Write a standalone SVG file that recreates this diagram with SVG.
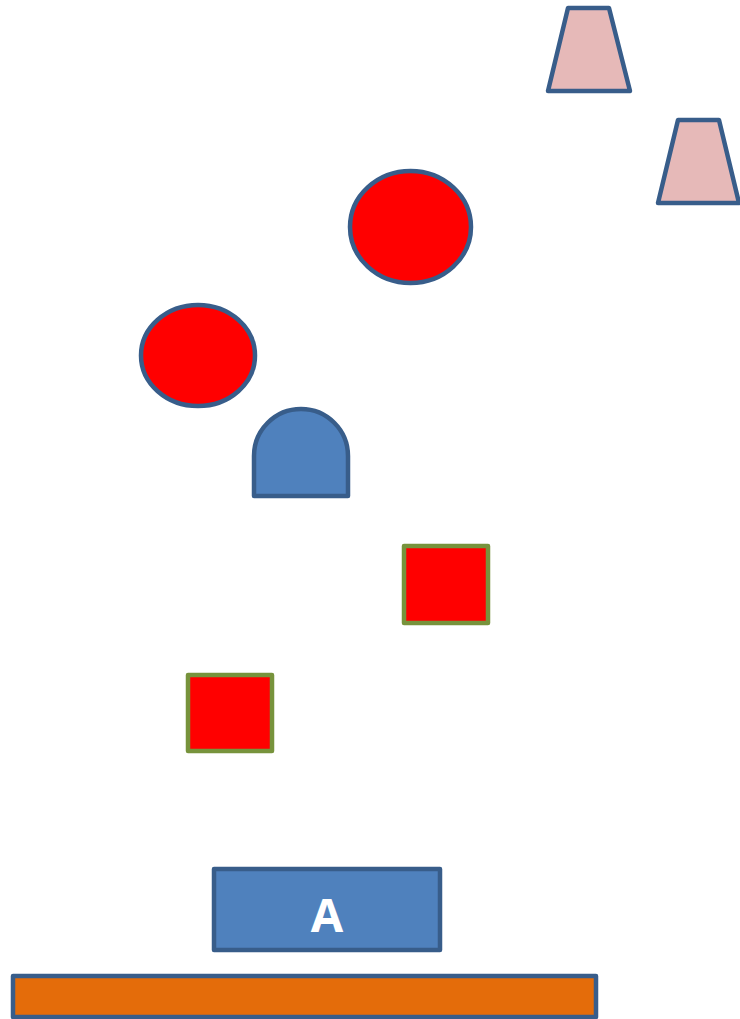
<svg xmlns="http://www.w3.org/2000/svg" width="740" height="1019" viewBox="0 0 740 1019">
<style>
.s{stroke:#385D8A;stroke-width:4.5;stroke-linejoin:round}
.g{stroke:#77933C;stroke-width:4.5;stroke-linejoin:round;fill:#FF0000}
.trap{fill:#E6B9B8}
.red{fill:#FF0000}
.blue{fill:#4F81BD}
.lbl{font-family:"Open Sans","Liberation Sans",sans-serif;font-weight:bold;font-size:47px;fill:#FFFFFF;text-anchor:middle}
</style>
<rect width="740" height="1019" fill="#FFFFFF"/>
<g id="trap1"><polygon class="s trap" points="568,8 609,8 630,91 548,91"/></g>
<g id="trap2"><polygon class="s trap" points="678,120 719,120 739,203 658,203"/></g>
<g id="ellipse1"><ellipse class="s red" cx="410.5" cy="227" rx="60.5" ry="56"/></g>
<g id="ellipse2"><ellipse class="s red" cx="198" cy="355.5" rx="57" ry="50.5"/></g>
<g id="dome"><path class="s blue" d="M254,496 L254,456 A47,47 0 0 1 348,456 L348,496 Z"/></g>
<g id="square1"><rect class="g" x="404" y="546" width="84" height="77"/></g>
<g id="square2"><rect class="g" x="188" y="675" width="84" height="76"/></g>
<g id="boxA"><rect class="s blue" x="214" y="869" width="226" height="81"/><text class="lbl" x="327" y="932">A</text></g>
<g id="bar"><rect class="s" fill="#E46C0A" x="13" y="976" width="583" height="41"/></g>
<g id="connectors"></g>
</svg>
